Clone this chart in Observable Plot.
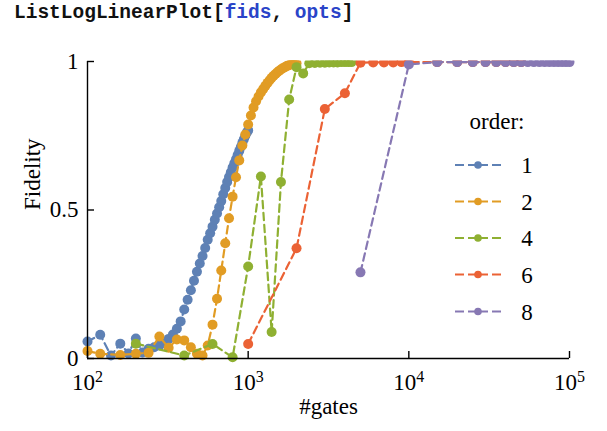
<!DOCTYPE html>
<html><head><meta charset="utf-8">
<script src="https://cdn.jsdelivr.net/npm/d3@7"></script>
<script src="https://cdn.jsdelivr.net/npm/@observablehq/plot@0.6"></script>
<style>
body{margin:0;background:#fff;}
#wrap{position:relative;width:607px;height:431px;}
#title{position:absolute;left:14px;top:2px;font-family:"Liberation Mono",monospace;font-weight:bold;font-size:19.5px;white-space:pre;color:#111;z-index:2;}
#title .sym{color:#2a44c8;}
svg text{font-family:"Liberation Serif", serif !important;}
</style></head><body>
<div id="wrap"><div id="title">ListLogLinearPlot[<span class="sym">fids</span>, <span class="sym">opts</span>]</div></div>
<script>
const orders = ["1", "2", "4", "6", "8"];
const colors = ["#5E81B5", "#E19C24", "#8FB032", "#EB6235", "#8778B3"];

// order 1
const n1 = [100,120,140,160,180,200,220,240,260,280,300,320,340,360,380,400,420,440,460,480,500,520,540,560,580,600,620,640,660,680,700,720,740,760,780,800,820,840,860,880,900,920,940,960,980,1000];
const f1 = [0.057,0.080,0.010,0.050,0.017,0.067,0.020,0.033,0.038,0.044,0.051,0.066,0.081,0.100,0.125,0.165,0.198,0.230,0.262,0.292,0.320,0.345,0.372,0.400,0.422,0.444,0.467,0.488,0.509,0.530,0.553,0.574,0.594,0.611,0.627,0.643,0.657,0.671,0.685,0.699,0.712,0.726,0.738,0.750,0.760,0.768];
// order 2
const n2 = [100,120,160,200,240,280,320,360,400,440,480,520,560,600,640,680,720,760,800,840,880,920,960,1000,1040,1080,1120,1160,1200,1240,1280,1320,1360,1400,1440,1480,1520,1560,1600,1640,1680,1720,1760,1800,1840,1880,1920,1960,2000];
const f2 = [0.025,0.016,0.012,0.016,0.019,0.074,0.036,0.064,0.061,0.038,0.016,0.010,0.044,0.114,0.201,0.296,0.388,0.472,0.545,0.610,0.667,0.717,0.754,0.788,0.818,0.845,0.866,0.882,0.896,0.907,0.918,0.928,0.937,0.945,0.952,0.958,0.964,0.969,0.973,0.977,0.980,0.983,0.986,0.988,0.990,0.991,0.992,0.993,0.994];
// order 4
const n4 = [200,400,600,800,1000,1200,1400,1600,1800,2000,2200,2400,2600,2800,3000,3200,3400,3600,3800,4000,4200,4400];
const f4 = [0.050,0.010,0.049,0.004,0.310,0.613,0.089,0.594,0.872,0.981,0.960,0.994,0.995,0.996,0.996,0.997,0.997,0.997,0.998,0.998,0.998,0.998];
// order 6
const n6 = [1000,2000,3000,4000,5000,6000,7000,8000,9000,10000,15000,20000,25000,30000,35000,40000,45000,50000];
const f6 = [0.049,0.371,0.840,0.893,0.996,0.997,0.997,0.997,0.998,0.998,0.998,0.998,0.998,0.998,0.998,0.998,0.998,0.998];
// order 8
const n8 = [5000,10000,15000,20000,25000,30000,35000,40000,45000,50000,55000,60000,65000,70000,75000,80000,85000,90000,95000,100000];
const f8 = [0.290,0.990,0.998,0.998,0.998,0.998,0.998,0.998,0.998,0.998,0.998,0.998,0.998,0.998,0.998,0.998,0.998,0.998,0.998,0.998];

const xTicks = [100, 1000, 10000, 100000];
const yTicks = [0, 0.5, 1];
const yTickLabels = ["0", "0.5", "1"];
const xLabel = "#gates";
const yLabel = "Fidelity";
const legendTitle = "order:";

const series = [[orders[0], n1, f1], [orders[1], n2, f2], [orders[2], n4, f4], [orders[3], n6, f6], [orders[4], n8, f8]];
const rows = series.flatMap(([o, ns, fs]) => ns.map((n, i) => ({order: o, n, f: fs[i]})));

const serif = "'Liberation Serif', serif";
const dataMarks = [];
for (const o of orders) {
  const d = rows.filter(r => r.order === o);
  dataMarks.push(Plot.line(d, {x: "n", y: "f", stroke: "order", strokeWidth: 2.2, strokeDasharray: "7.5,4.5"}));
  dataMarks.push(Plot.dot(d, {x: "n", y: "f", fill: "order", r: 5}));
}

const chart = Plot.plot({
  width: 607, height: 431,
  marginLeft: 87, marginRight: 38, marginTop: 61, marginBottom: 73,
  style: {fontFamily: serif, fontSize: "22px", background: "white", color: "black"},
  x: {type: "log", domain: [100, 100000]},
  y: {domain: [0, 1]},
  color: {domain: orders, range: colors},
  marks: [
    ...dataMarks,
    Plot.ruleY([0], {strokeWidth: 1.4}),
    Plot.ruleX([100], {strokeWidth: 1.4}),
    Plot.axisX({ticks: xTicks, tickSize: 7, tickPadding: 8, fontSize: 23, tickFormat: d => "10^" + Math.round(Math.log10(d)), label: null}),
    Plot.axisY({ticks: yTicks, tickSize: 7, tickPadding: 2, fontSize: 23, tickFormat: d => yTickLabels[yTicks.indexOf(d)], label: null}),
    Plot.text([xLabel], {text: d => d, frameAnchor: "bottom", dy: 55, fontSize: 23}),
    Plot.text([yLabel], {text: d => d, frameAnchor: "left", dx: -55, rotate: -90, fontSize: 23})
  ]
});
document.getElementById("wrap").appendChild(chart);
const svg = d3.select(chart);
svg.style("position", "absolute").style("left", "0px").style("top", "0px").attr("font-family", serif);

// inward ticks
svg.selectAll('g[aria-label="x-axis tick"] path').attr("d", "M0,0L0,-7").attr("stroke-width", 1.4);
svg.selectAll('g[aria-label="y-axis tick"] path').attr("d", "M0,0L7,0").attr("stroke-width", 1.4);
// superscript exponents
svg.selectAll('g[aria-label="x-axis tick label"] text').each(function() {
  const t = d3.select(this);
  const s = t.text();
  const k = s.split("^")[1];
  t.text("10");
  t.append("tspan").attr("dy", "-0.5em").attr("font-size", "16px").text(k);
});
// clip at the top like the reference
const defs = svg.insert("defs", ":first-child");
defs.append("clipPath").attr("id", "topclip").append("rect").attr("x", 0).attr("y", 60).attr("width", 607).attr("height", 371);
svg.selectAll('g[aria-label="line"], g[aria-label="dot"]').attr("clip-path", "url(#topclip)");

// legend
const lg = svg.append("g").attr("font-family", serif).attr("font-size", 23);
lg.append("text").attr("x", 497).attr("y", 121).attr("dy", "0.35em").attr("text-anchor", "middle").text(legendTitle);
const ys = [165, 201.5, 238, 274.5, 311.5];
orders.forEach((o, i) => {
  const g = lg.append("g").attr("transform", `translate(0,${ys[i]})`);
  [[455, 464], [468, 488], [492, 501]].forEach(([a, b]) =>
    g.append("line").attr("x1", a).attr("x2", b).attr("y1", 0).attr("y2", 0).attr("stroke", colors[i]).attr("stroke-width", 2));
  g.append("circle").attr("cx", 478).attr("cy", 0).attr("r", 3.8).attr("fill", colors[i]);
  g.append("text").attr("x", 527).attr("y", 0).attr("dy", "0.35em").text(o);
});
</script>
</body></html>
